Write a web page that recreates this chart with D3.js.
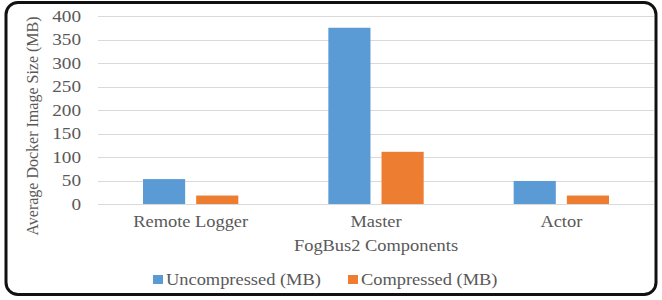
<!DOCTYPE html>
<html>
<head>
<meta charset="utf-8">
<script src="https://cdn.jsdelivr.net/npm/d3@7"></script>
<style>
  body { margin: 0; background: #fff; }
  text { font-family: "Liberation Serif", "Times New Roman", serif; fill: #595959; }
</style>
</head>
<body>
<script>
//chart values
var categories = ["Remote Logger", "Master", "Actor"];
var seriesNames = ["Uncompressed (MB)", "Compressed (MB)"];
var uncompressed = [53, 375, 49];
var compressed = [18, 111, 18];
var yTicks = [0, 50, 100, 150, 200, 250, 300, 350, 400];
var colors = ["#5b9bd5", "#ed7d31"];

window.onload = drawChart();

//widen text a bit, the original picture is stretched horizontally
function stretch(sel, k){
    sel.each(function(){
        var w = this.getComputedTextLength();
        d3.select(this)
            .attr("textLength", w * k)
            .attr("lengthAdjust", "spacingAndGlyphs");
    });
}

function drawChart(){
    var width = 662,
        height = 300,
        fontSize = "16px",
        k = 1.15;

    var svg = d3.select("body")
        .append("svg")
        .attr("width", width)
        .attr("height", height);

    //rounded frame
    svg.append("rect")
        .attr("x", 6)
        .attr("y", 2.5)
        .attr("width", 650)
        .attr("height", 292)
        .attr("rx", 12)
        .attr("fill", "none")
        .attr("stroke", "#111")
        .attr("stroke-width", 3);

    var plotLeft = 98, plotRight = 654, plotTop = 16, plotBottom = 204;

    var y = d3.scaleLinear()
        .domain([0, 400])
        .range([plotBottom, plotTop]);

    var x0 = d3.scaleBand()
        .domain(categories)
        .range([plotLeft, plotRight])
        .padding(0);

    var gap = 45;
    var x1 = d3.scaleBand()
        .domain(seriesNames)
        .range([gap, x0.bandwidth() - gap])
        .paddingInner(0.2075)
        .paddingOuter(0);

    //gridlines
    svg.append("g")
        .selectAll("line")
        .data(yTicks)
        .enter()
        .append("line")
        .attr("x1", plotLeft)
        .attr("x2", plotRight)
        .attr("y1", function(d){ return Math.round(y(d)) + 0.5; })
        .attr("y2", function(d){ return Math.round(y(d)) + 0.5; })
        .attr("stroke", "#d9d9d9")
        .attr("stroke-width", 1);

    //y axis labels
    var yAxis = d3.axisLeft(y)
        .tickValues(yTicks)
        .tickSize(0)
        .tickPadding(0);
    var yg = svg.append("g")
        .attr("transform", "translate(81,0)")
        .call(yAxis);
    yg.select(".domain").remove();
    yg.selectAll("text")
        .attr("font-size", fontSize)
        .attr("font-family", null)
        .attr("dy", "0.34em")
        .call(stretch, 1.2);

    //bars
    var series = [uncompressed, compressed];
    var groups = svg.append("g")
        .selectAll("g")
        .data(categories)
        .enter()
        .append("g")
        .attr("transform", function(d){ return "translate(" + x0(d) + ",0)"; });

    groups.selectAll("rect")
        .data(function(d, i){
            return seriesNames.map(function(s, j){ return {series: s, value: series[j][i], idx: j}; });
        })
        .enter()
        .append("rect")
        .attr("x", function(d){ return x1(d.series); })
        .attr("width", x1.bandwidth())
        .attr("y", function(d){ return y(d.value); })
        .attr("height", function(d){ return y(0) - y(d.value); })
        .attr("fill", function(d){ return colors[d.idx]; });

    //x axis labels
    var xAxis = d3.axisBottom(x0)
        .tickSize(0)
        .tickPadding(0);
    var xg = svg.append("g")
        .attr("transform", "translate(0,216)")
        .call(xAxis);
    xg.select(".domain").remove();
    xg.selectAll("text")
        .attr("font-size", fontSize)
        .attr("font-family", null)
        .call(stretch, k);

    //axis titles
    svg.append("text")
        .attr("x", 376)
        .attr("y", 251)
        .attr("text-anchor", "middle")
        .attr("font-size", fontSize)
        .text("FogBus2 Components")
        .call(stretch, k);

    svg.append("text")
        .attr("transform", "translate(38,126) rotate(-90)")
        .attr("text-anchor", "middle")
        .attr("font-size", "16px")
        .text("Average Docker Image Size (MB)");

    //legend
    var legendPos = [153, 348];
    var legend = svg.append("g")
        .selectAll("g")
        .data(seriesNames)
        .enter()
        .append("g")
        .attr("transform", function(d, i){ return "translate(" + legendPos[i] + ",275)"; });

    legend.append("rect")
        .attr("width", 10)
        .attr("height", 9)
        .attr("fill", function(d, i){ return colors[i]; });

    legend.append("text")
        .attr("x", 13)
        .attr("y", 9.5)
        .attr("font-size", fontSize)
        .text(function(d){ return d; })
        .call(stretch, k);
}
</script>
</body>
</html>
